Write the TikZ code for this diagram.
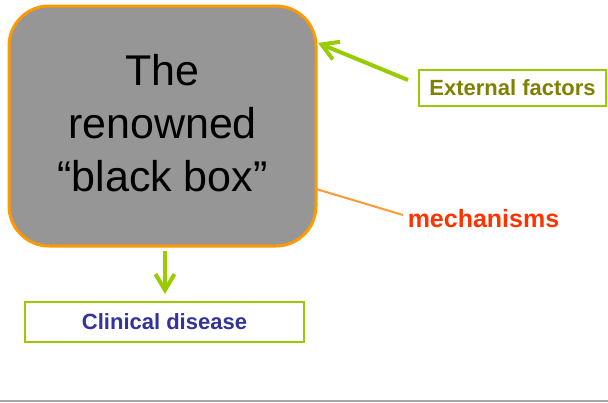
\documentclass[tikz,border=0pt]{standalone}
\usepackage{fontspec}
\setmainfont{Liberation Sans}
\usetikzlibrary{arrows.meta}

\definecolor{boxgray}{RGB}{150,150,150}
\definecolor{boxorange}{RGB}{255,153,0}
\definecolor{leaf}{RGB}{153,204,0}
\definecolor{olivetext}{RGB}{128,128,0}
\definecolor{flame}{RGB}{255,51,0}
\definecolor{indigotext}{RGB}{51,51,153}
\definecolor{linkorange}{RGB}{255,153,51}
\definecolor{rulegray}{RGB}{166,166,166}

\tikzset{
  blackbox/.style={rectangle, rounded corners=40pt, fill=boxgray, draw=boxorange,
    line width=3pt, minimum width=307pt, minimum height=240pt, inner sep=0pt},
  boxtext/.style={align=center, inner sep=0pt, font=\fontsize{43}{53}\selectfont},
  labelbox/.style={rectangle, draw=leaf, line width=2pt, fill=white, inner sep=0pt,
    font=\fontsize{22}{26}\selectfont\bfseries},
  greenarrow/.style={draw=leaf, line width=4pt,
    -{Straight Barb[length=16pt,width=19pt]}},
  link/.style={draw=linkorange, line width=2pt},
}

\begin{document}
\begin{tikzpicture}[x=1pt,y=-1pt]
  \useasboundingbox (0,0) rectangle (608,402);

  % central rounded box and its caption
  \node[blackbox] (bb) at (162.5,126) {};
  \node[boxtext] (bbText) at (162.5,123) {The\\renowned\\“black box”};

  % input label and its arrow into the box
  \node[labelbox, text=olivetext, minimum width=187pt, minimum height=36pt]
    (ef) at (512.5,88) {External factors};
  \coordinate (efTail) at (408,80);
  \coordinate (bbIn) at (318,43);
  \draw[greenarrow] (efTail) -- (bbIn);

  % mechanisms label with its leader line
  \node[anchor=base, text=flame, font=\fontsize{25}{30}\selectfont\bfseries]
    (mech) at (483.5,227) {mechanisms};
  \coordinate (bbOut) at (316,189);
  \coordinate (mechEnd) at (403,215);
  \draw[link] (bbOut) -- (mechEnd);

  % output label and the arrow down to it
  \node[labelbox, text=indigotext, minimum width=279pt, minimum height=40pt]
    (cd) at (164.5,322) {Clinical disease};
  \coordinate (downTop) at (165,251);
  \coordinate (downTip) at (165,294);
  \draw[greenarrow] (downTop) -- (downTip);

  % bottom rule
  \draw[rulegray, line width=1.5pt] (0,401) -- (608,401);
\end{tikzpicture}
\end{document}
